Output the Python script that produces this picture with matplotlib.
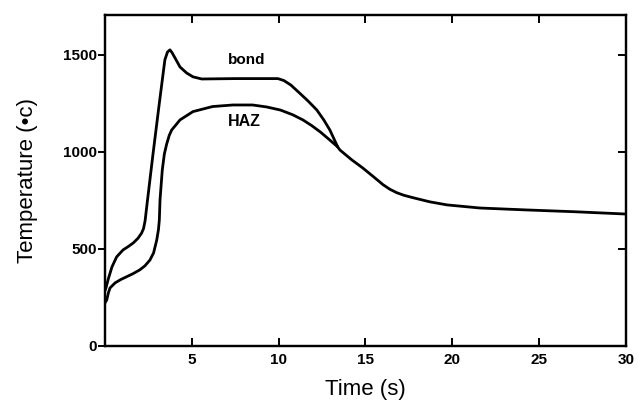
import matplotlib.pyplot as plt

# readings (time in s, temperature in deg C)
bond_t = [0, 0.06, 0.19, 0.4, 0.67, 1.04, 1.3, 1.63, 1.9, 2.11, 2.22, 2.31, 2.44, 2.76,
          3.1, 3.45, 3.6, 3.74, 3.86, 4.03, 4.32, 4.7, 5.07, 5.57, 7.5, 9.96, 10.3,
          10.7, 11.2, 11.7, 12.2, 12.6, 12.95, 13.4]
bond_T = [285, 300, 345, 407, 459, 495, 510, 531, 555, 582, 605, 645, 745, 985,
          1230, 1475, 1515, 1526, 1512, 1485, 1438, 1407, 1387, 1376, 1378, 1378, 1368,
          1345, 1304, 1262, 1216, 1165, 1113, 1026]

haz_t = [0, 0.1, 0.2, 0.29, 0.58, 0.9, 1.25, 1.6, 2.0, 2.3, 2.59, 2.8, 2.98, 3.08,
         3.13, 3.17, 3.3, 3.42, 3.55, 3.7, 3.84, 4.32, 5.07, 6.2, 7.37, 8.5, 9.3,
         10.1, 10.8, 11.4, 11.9, 12.4, 12.9, 13.4]
haz_T = [222, 237, 275, 299, 325, 342, 357, 372, 392, 413, 443, 480, 546, 600,
         649, 753, 907, 990, 1040, 1085, 1113, 1165, 1208, 1234, 1242, 1242, 1232,
         1216, 1192, 1165, 1136, 1103, 1065, 1026]

# both curves merge after ~13.4 s
tail_t = [13.4, 13.53, 14.2, 14.85, 15.6, 16.0, 16.4, 16.8, 17.2, 17.7, 18.7, 19.7,
          21.6, 24.3, 27, 30]
tail_T = [1026, 1010, 960, 917, 862, 832, 808, 790, 777, 765, 743, 727,
          711, 701, 692, 680]

plt.rcParams['font.family'] = ['Liberation Sans', 'DejaVu Sans']

fig = plt.figure(figsize=(6.44, 4.04), dpi=100)
ax = fig.add_axes([0.163, 0.1436, 0.809, 0.8194])

for t, T in [(bond_t, bond_T), (haz_t, haz_T), (tail_t, tail_T)]:
    ax.plot(t, T, color='black', lw=2.0, solid_capstyle='round', solid_joinstyle='round')

ax.set_xlim(0, 30)
ax.set_ylim(0, 1706)
ax.set_xticks([5, 10, 15, 20, 25, 30])
ax.set_yticks([0, 500, 1000, 1500])
ax.tick_params(axis='x', direction='in', top=True, length=6, width=1.4, labelsize=11, pad=5)
ax.tick_params(axis='y', direction='out', length=5, width=1.4, labelsize=11, pad=1)
for lab in ax.get_xticklabels() + ax.get_yticklabels():
    lab.set_fontweight('bold')

# right spine ticks point inward
ax2 = ax.twinx()
ax2.set_ylim(ax.get_ylim())
ax2.set_yticks([500, 1000, 1500])
ax2.tick_params(axis='y', direction='in', length=6, width=1.4, labelright=False)

for a in (ax, ax2):
    for s in a.spines.values():
        s.set_linewidth(1.6)

ax.text(8.15, 1474, 'bond', fontsize=11, fontweight='bold', ha='center', va='center')
ax.text(8.05, 1155, 'HAZ', fontsize=11.5, fontweight='bold', ha='center', va='center')

ax.set_xlabel('Time (s)', fontsize=16, labelpad=9)
ax.set_ylabel('Temperature (\u2022c)', fontsize=16, labelpad=18)

fig.savefig('out.png', dpi=100)
